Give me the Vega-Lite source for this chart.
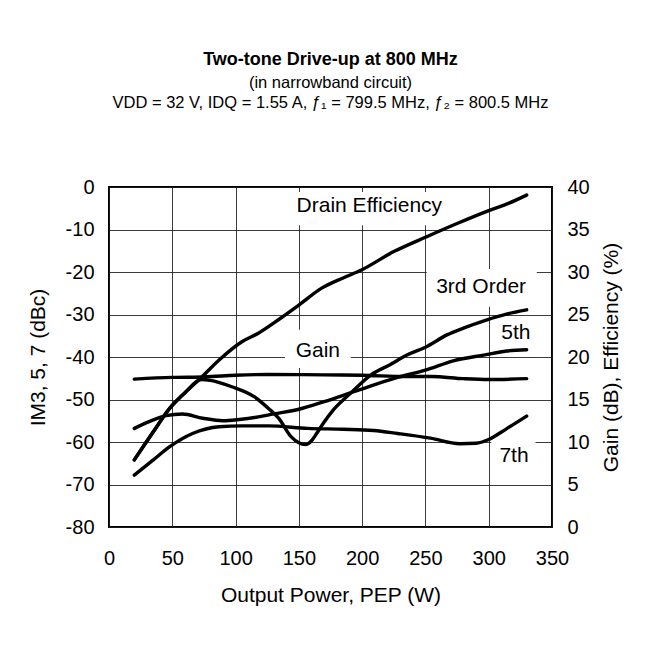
{
  "$schema": "https://vega.github.io/schema/vega-lite/v6.json",
  "width": 443,
  "height": 340,
  "autosize": "none",
  "padding": {"left": 109, "top": 187, "right": 112, "bottom": 144},
  "background": "white",
  "config": {
    "font": "Liberation Sans",
    "view": {"stroke": "black", "strokeWidth": 2},
    "axis": {
      "domain": false,
      "ticks": false,
      "labelFontSize": 20,
      "labelColor": "black",
      "titleColor": "black",
      "titleFontSize": 21,
      "titleFontWeight": "normal",
      "labelFlush": false,
      "labelOverlap": false,
      "labelExpr": "'' + datum.value",
      "gridColor": "#1a1a1a",
      "gridOpacity": 0.85,
      "gridWidth": 1
    }
  },
  "title": {
    "text": "Two-tone Drive-up at 800 MHz",
    "subtitle": ["(in narrowband circuit)", "VDD = 32 V, IDQ = 1.55 A, ƒ₁ = 799.5 MHz, ƒ₂ = 800.5 MHz"],
    "anchor": "middle",
    "fontSize": 18,
    "fontWeight": "bold",
    "color": "black",
    "subtitleFontSize": 16.5,
    "subtitleColor": "black",
    "subtitleLineHeight": 20,
    "subtitlePadding": 6,
    "offset": 66
  },
  "datasets": {
    "left": [
      {"series": "3rd", "x": 20, "y": -64.2}, {"series": "3rd", "x": 35, "y": -57.6}, {"series": "3rd", "x": 48, "y": -52.1},
      {"series": "3rd", "x": 60, "y": -48.4}, {"series": "3rd", "x": 73, "y": -45.3}, {"series": "3rd", "x": 80, "y": -45.5},
      {"series": "3rd", "x": 97, "y": -47}, {"series": "3rd", "x": 115, "y": -49.4}, {"series": "3rd", "x": 126, "y": -52.1},
      {"series": "3rd", "x": 134, "y": -54.4}, {"series": "3rd", "x": 144, "y": -58.8}, {"series": "3rd", "x": 150, "y": -60.2},
      {"series": "3rd", "x": 155, "y": -60.6}, {"series": "3rd", "x": 160, "y": -59.7}, {"series": "3rd", "x": 164, "y": -58},
      {"series": "3rd", "x": 170, "y": -55.3}, {"series": "3rd", "x": 176, "y": -52.9}, {"series": "3rd", "x": 191, "y": -48.5},
      {"series": "3rd", "x": 207, "y": -44.2}, {"series": "3rd", "x": 222, "y": -41.8}, {"series": "3rd", "x": 235, "y": -39.6},
      {"series": "3rd", "x": 250, "y": -37.7}, {"series": "3rd", "x": 267, "y": -34.8}, {"series": "3rd", "x": 280, "y": -33.2},
      {"series": "3rd", "x": 298, "y": -31.3}, {"series": "3rd", "x": 314, "y": -29.9}, {"series": "3rd", "x": 330, "y": -28.9},
      {"series": "5th", "x": 20, "y": -56.8}, {"series": "5th", "x": 35, "y": -54.8}, {"series": "5th", "x": 45, "y": -53.8},
      {"series": "5th", "x": 58, "y": -53.4}, {"series": "5th", "x": 74, "y": -54.4}, {"series": "5th", "x": 90, "y": -55},
      {"series": "5th", "x": 103, "y": -54.7}, {"series": "5th", "x": 118, "y": -54.1}, {"series": "5th", "x": 130, "y": -53.4},
      {"series": "5th", "x": 150, "y": -52.3}, {"series": "5th", "x": 170, "y": -50.5}, {"series": "5th", "x": 196, "y": -47.9},
      {"series": "5th", "x": 228, "y": -44.8}, {"series": "5th", "x": 250, "y": -43.1}, {"series": "5th", "x": 272, "y": -40.9},
      {"series": "5th", "x": 297, "y": -39.5}, {"series": "5th", "x": 314, "y": -38.6}, {"series": "5th", "x": 330, "y": -38.3},
      {"series": "7th", "x": 20, "y": -67.8}, {"series": "7th", "x": 35, "y": -64.2}, {"series": "7th", "x": 48, "y": -61.1},
      {"series": "7th", "x": 66, "y": -58}, {"series": "7th", "x": 87, "y": -56.4}, {"series": "7th", "x": 105, "y": -56.2},
      {"series": "7th", "x": 126, "y": -56.2}, {"series": "7th", "x": 157, "y": -56.8}, {"series": "7th", "x": 185, "y": -57},
      {"series": "7th", "x": 209, "y": -57.3}, {"series": "7th", "x": 228, "y": -58}, {"series": "7th", "x": 254, "y": -59.1},
      {"series": "7th", "x": 277, "y": -60.4}, {"series": "7th", "x": 290, "y": -60.3}, {"series": "7th", "x": 300, "y": -59.4},
      {"series": "7th", "x": 314, "y": -56.9}, {"series": "7th", "x": 330, "y": -53.9}
    ],
    "right": [
      {"series": "Gain", "x": 20, "y": 17.4}, {"series": "Gain", "x": 50, "y": 17.6}, {"series": "Gain", "x": 75, "y": 17.65},
      {"series": "Gain", "x": 100, "y": 17.85}, {"series": "Gain", "x": 126, "y": 17.95}, {"series": "Gain", "x": 170, "y": 17.9},
      {"series": "Gain", "x": 200, "y": 17.85}, {"series": "Gain", "x": 235, "y": 17.7}, {"series": "Gain", "x": 255, "y": 17.7},
      {"series": "Gain", "x": 280, "y": 17.45}, {"series": "Gain", "x": 300, "y": 17.35}, {"series": "Gain", "x": 330, "y": 17.45},
      {"series": "Eff", "x": 20, "y": 7.9}, {"series": "Eff", "x": 35, "y": 11.2}, {"series": "Eff", "x": 48, "y": 14},
      {"series": "Eff", "x": 60, "y": 15.8}, {"series": "Eff", "x": 73, "y": 17.6}, {"series": "Eff", "x": 87, "y": 19.65},
      {"series": "Eff", "x": 105, "y": 21.8}, {"series": "Eff", "x": 118, "y": 22.8}, {"series": "Eff", "x": 135, "y": 24.5},
      {"series": "Eff", "x": 150, "y": 26.1}, {"series": "Eff", "x": 168, "y": 28.1}, {"series": "Eff", "x": 185, "y": 29.3},
      {"series": "Eff", "x": 199, "y": 30.2}, {"series": "Eff", "x": 225, "y": 32.4}, {"series": "Eff", "x": 251, "y": 34.15},
      {"series": "Eff", "x": 275, "y": 35.7}, {"series": "Eff", "x": 298, "y": 37.1}, {"series": "Eff", "x": 316, "y": 38.1},
      {"series": "Eff", "x": 330, "y": 39.05}
    ],
    "labels": [
      {"text": "Drain Efficiency", "x": 205.7, "y": -4.5},
      {"text": "Gain", "x": 165, "y": -38.6},
      {"text": "3rd Order", "x": 294, "y": -23.5},
      {"text": "5th", "x": 321.5, "y": -34.4},
      {"text": "7th", "x": 320, "y": -63.2}
    ],
    "boxes": [
      {"x1": 138, "x2": 275, "y1": -1.2, "y2": -9},
      {"x1": 139, "x2": 191, "y1": -33.6, "y2": -42.6},
      {"x1": 251, "x2": 338, "y1": -19.3, "y2": -28.2},
      {"x1": 302, "x2": 337, "y1": -58.8, "y2": -66.6}
    ]
  },
  "layer": [
    {
      "layer": [
        {
          "data": {"name": "boxes"},
          "mark": {"type": "rect", "color": "white"},
          "encoding": {
            "x": {"field": "x1", "type": "quantitative", "scale": {"domain": [0, 350], "nice": false},
              "axis": {"title": "Output Power, PEP (W)", "values": [0, 50, 100, 150, 200, 250, 300, 350], "grid": true, "labelPadding": 21, "titlePadding": 16}},
            "x2": {"field": "x2"},
            "y": {"field": "y1", "type": "quantitative", "scale": {"domain": [-80, 0], "nice": false},
              "axis": {"title": "IM3, 5, 7 (dBc)", "orient": "left", "values": [0, -10, -20, -30, -40, -50, -60, -70, -80], "grid": true, "labelPadding": 15, "titlePadding": 17}},
            "y2": {"field": "y2"}
          }
        },
        {
          "data": {"name": "left"},
          "mark": {"type": "line", "color": "black", "strokeWidth": 3.4, "interpolate": "monotone", "strokeCap": "round"},
          "encoding": {
            "x": {"field": "x", "type": "quantitative"},
            "y": {"field": "y", "type": "quantitative"},
            "detail": {"field": "series"}
          }
        },
        {
          "data": {"name": "labels"},
          "mark": {"type": "text", "fontSize": 21, "color": "black", "align": "center", "baseline": "middle"},
          "encoding": {
            "x": {"field": "x", "type": "quantitative"},
            "y": {"field": "y", "type": "quantitative"},
            "text": {"field": "text"}
          }
        }
      ]
    },
    {
      "data": {"name": "right"},
      "mark": {"type": "line", "color": "black", "strokeWidth": 3.4, "interpolate": "monotone", "strokeCap": "round"},
      "encoding": {
        "x": {"field": "x", "type": "quantitative"},
        "y": {"field": "y", "type": "quantitative", "scale": {"domain": [0, 40], "nice": false},
          "axis": {"title": "Gain (dB), Efficiency (%)", "orient": "right", "titleAngle": -90, "titleBaseline": "top", "values": [0, 5, 10, 15, 20, 25, 30, 35, 40], "grid": false, "labelPadding": 15, "titlePadding": 11}},
        "detail": {"field": "series"}
      }
    }
  ],
  "resolve": {"scale": {"y": "independent"}}
}
